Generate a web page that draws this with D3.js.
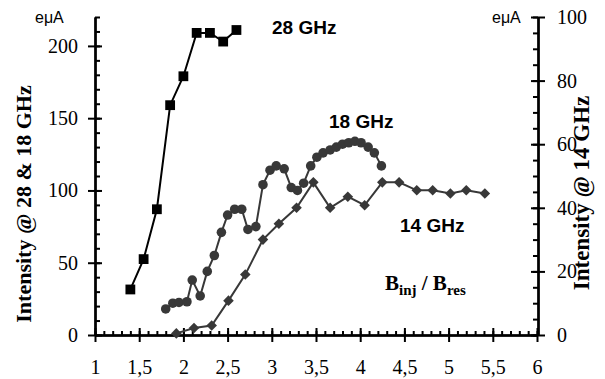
<!DOCTYPE html>
<html><head><meta charset="utf-8">
<script src="https://cdn.jsdelivr.net/npm/d3@7"></script>
<style>body{margin:0;background:#fff}svg{display:block}</style>
</head><body>
<script>
// ---- data ----
const x28 = [1.4, 1.55, 1.7, 1.85, 2.0, 2.15, 2.3, 2.45, 2.6];
const y28 = [31.5, 52.5, 87, 159, 179, 209, 209, 203, 211];
const x18 = [1.80,1.88,1.95,2.04,2.10,2.19,2.27,2.35,2.43,2.50,2.58,2.66,2.73,2.82,2.90,2.98,3.05,3.14,3.22,3.29,3.36,3.44,3.51,3.58,3.66,3.73,3.80,3.87,3.94,4.01,4.09,4.16,4.24];
const y18 = [18,22,22.5,23,38,27,44,55,71,83,87,87,73,75,104,114,117,115,102,100,105,117,123,126,128,130,132,133,134,133,130,126,117];
const x14 = [1.92,2.12,2.32,2.51,2.70,2.90,3.08,3.28,3.47,3.66,3.86,4.05,4.25,4.44,4.64,4.82,5.02,5.20,5.41];
const y14 = [0.5,2.2,3.0,10.8,19,30,35,40,48,40,43.5,40.8,48,48,45.5,45.5,44.5,45.5,44.5];
const xTicks = [1,1.5,2,2.5,3,3.5,4,4.5,5,5.5,6];
const yLeftTicks = [0,50,100,150,200];
const yRightTicks = [0,20,40,60,80,100];

const W = 605, H = 379;
const svg = d3.select("body").append("svg").attr("width", W).attr("height", H);
const L = 95, R = 537, T = 17, B = 335;
const x = d3.scaleLinear().domain([1, 6]).range([L, R]);
const yL = d3.scaleLinear().domain([0, 220]).range([B, T]);
const yR = d3.scaleLinear().domain([0, 100]).range([B, T]);
const serif = "'Liberation Serif','Times New Roman',serif";
const sans = "'Liberation Sans',Arial,sans-serif";
const fmt = d => String(d).replace(".", ",");

function style(g, labels) {
  g.selectAll("path.domain").attr("stroke", "#000").attr("stroke-width", 2);
  g.selectAll(".tick line").attr("stroke", "#000").attr("stroke-width", 2);
  g.selectAll(".tick text").attr("font-family", serif).attr("font-size", 20).attr("fill", "#000");
  if (!labels) g.selectAll(".tick text").remove();
}

// x axis
const minorX = d3.range(10, 61).map(d => d / 10);
svg.append("g").attr("transform", `translate(0,${B})`)
  .call(d3.axisTop(x).tickValues(minorX).tickSize(4).tickSizeOuter(0).tickFormat(""))
  .call(g => style(g, false));
svg.append("g").attr("transform", `translate(0,${B})`)
  .call(d3.axisTop(x).tickValues(xTicks).tickSize(7).tickSizeOuter(0).tickFormat(""))
  .call(g => style(g, false));
svg.append("g").attr("transform", `translate(0,${B})`)
  .call(d3.axisBottom(x).tickValues(xTicks).tickSize(7).tickSizeOuter(0).tickPadding(18).tickFormat(fmt))
  .call(g => style(g, true));

// left axis
const minorL = d3.range(0, 221, 10);
svg.append("g").attr("transform", `translate(${L},0)`)
  .call(d3.axisRight(yL).tickValues(minorL).tickSize(5).tickSizeOuter(0).tickFormat(""))
  .call(g => style(g, false));
svg.append("g").attr("transform", `translate(${L},0)`)
  .call(d3.axisRight(yL).tickValues(yLeftTicks).tickSize(7).tickSizeOuter(0).tickFormat(""))
  .call(g => style(g, false));
svg.append("g").attr("transform", `translate(${L},0)`)
  .call(d3.axisLeft(yL).tickValues(yLeftTicks).tickSize(7).tickSizeOuter(0).tickPadding(10))
  .call(g => style(g, true));

// right axis
const RX = 538;
const minorR = d3.range(0, 101, 5);
svg.append("g").attr("transform", `translate(${RX},0)`)
  .call(d3.axisLeft(yR).tickValues(minorR).tickSize(5).tickSizeOuter(0).tickFormat(""))
  .call(g => style(g, false));
svg.append("g").attr("transform", `translate(${RX},0)`)
  .call(d3.axisLeft(yR).tickValues(yRightTicks).tickSize(7).tickSizeOuter(0).tickFormat(""))
  .call(g => style(g, false));
svg.append("g").attr("transform", `translate(${RX},0)`)
  .call(d3.axisRight(yR).tickValues(yRightTicks).tickSize(7).tickSizeOuter(0).tickPadding(12))
  .call(g => style(g, true));

// series
function series(xs, ys, yScale, color, sym, size, rot) {
  const pts = xs.map((d, i) => [d, ys[i]]);
  const line = d3.line().x(d => x(d[0])).y(d => yScale(d[1]));
  svg.append("path").datum(pts).attr("d", line).attr("fill", "none")
    .attr("stroke", color).attr("stroke-width", 2);
  svg.append("g").selectAll("path").data(pts).join("path")
    .attr("d", d3.symbol().type(sym).size(size))
    .attr("transform", d => `translate(${x(d[0])},${yScale(d[1])}) rotate(${rot})`)
    .attr("fill", color);
}
series(x14, y14, yR, "#383838", d3.symbolSquare, 56, 45);
series(x18, y18, yL, "#383838", d3.symbolCircle, 72, 0);
series(x28, y28, yL, "#000", d3.symbolSquare, 96, 0);

// labels
const ann = (t, xx, yy) => svg.append("text").attr("x", xx).attr("y", yy)
  .attr("font-family", sans).attr("font-weight", "bold").attr("font-size", 19).text(t);
ann("28 GHz", 272, 34);
ann("18 GHz", 329, 128);
ann("14 GHz", 400, 232);

svg.append("text").attr("x", 35).attr("y", 23).attr("font-family", sans).attr("font-size", 16).text("eμA");
svg.append("text").attr("x", 492).attr("y", 23).attr("font-family", sans).attr("font-size", 16).text("eμA");

svg.append("text").attr("transform", "translate(31,204) rotate(-90)").attr("text-anchor", "middle")
  .attr("font-family", serif).attr("font-weight", "bold").attr("font-size", 22)
  .text("Intensity @ 28 & 18 GHz");
svg.append("text").attr("transform", "translate(589,193) rotate(-90)").attr("text-anchor", "middle")
  .attr("font-family", serif).attr("font-weight", "bold").attr("font-size", 23)
  .text("Intensity @ 14 GHz");

const bt = svg.append("text").attr("x", 385).attr("y", 290)
  .attr("font-family", serif).attr("font-weight", "bold").attr("font-size", 21);
bt.append("tspan").text("B");
bt.append("tspan").attr("font-size", 15).attr("dy", 5).text("inj");
bt.append("tspan").attr("dy", -5).text(" / B");
bt.append("tspan").attr("font-size", 15).attr("dy", 5).text("res");
</script>
</body></html>
